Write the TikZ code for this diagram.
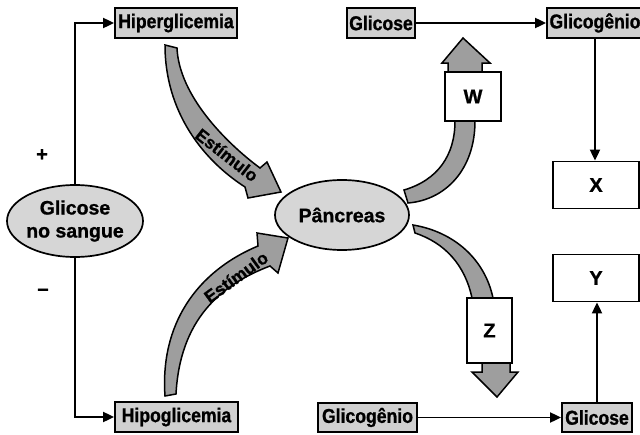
\documentclass[tikz,border=0pt]{standalone}
\usepackage{fontspec}
\setmainfont{Liberation Sans}[BoldFeatures={FakeBold=1}]
\newfontfamily\condbf{Liberation Sans Bold}[FakeStretch=0.88,FakeBold=1]
\usetikzlibrary{arrows.meta,shapes.geometric}
\definecolor{boxgray}{RGB}{208,208,208}
\definecolor{ellgray}{RGB}{214,214,214}
\definecolor{arrgray}{RGB}{158,158,158}
\begin{document}
\begin{tikzpicture}[x=1pt,y=-1pt,
  lbl/.style={rectangle,draw=black,line width=1.8pt,fill=boxgray,inner sep=0pt,
    font=\condbf\fontsize{20}{22}\selectfont},
  letterbox/.style={rectangle,draw=black,line width=1.8pt,fill=white,inner sep=0pt,
    font=\bfseries\fontsize{20}{22}\selectfont},
  ellbox/.style={ellipse,draw=black,line width=1.7pt,fill=ellgray,inner sep=0pt},
  elltext/.style={align=center,inner sep=0pt,font=\bfseries\fontsize{19.5}{23}\selectfont},
  conn/.style={line width=1.9pt,-{Triangle[length=11pt,width=10pt]}},
  bigarr/.style={fill=arrgray,draw=black,line width=1.5pt,line join=miter},
  stim/.style={inner sep=0pt,font=\bfseries\fontsize{17.5}{19}\selectfont},
  sign/.style={inner sep=0pt,font=\bfseries\fontsize{20}{22}\selectfont}
]
\useasboundingbox (0,0) rectangle (640,434);
\fill[white] (0,0) rectangle (640,434);

% big curved arrows
\draw[bigarr] (165,45) .. controls (165,112) and (203,160) .. (245,187)
  -- (248,198) -- (281,192) -- (267,162) -- (260,168)
  .. controls (225,142) and (179,95) .. (177,48) -- cycle;
\draw[bigarr] (165,396) .. controls (160,325) and (196,272) .. (258,246)
  -- (257,233) -- (288,238) -- (278,273) -- (270,266)
  .. controls (220,285) and (180,320) .. (176,394) -- cycle;
\draw[bigarr] (404,190) .. controls (438,180) and (455,155) .. (455,121)
  -- (448,100) -- (448,63) -- (442,63) -- (463,38) -- (490,63) -- (482,63)
  -- (482,100) -- (475,121) .. controls (475,170) and (445,200) .. (408,203) -- cycle;
\draw[bigarr] (413,225) .. controls (455,232) and (485,260) .. (493,298)
  -- (510,330) -- (510,372) -- (518,372) -- (497,397) -- (472,372) -- (482,372)
  -- (482,330) -- (472,298) .. controls (465,265) and (445,243) .. (415,233) -- cycle;

\node[stim,rotate=-38] (est1) at (227,155) {Estímulo};
\node[stim,rotate=36] (est2) at (236,277) {Estímulo};

% ellipses
\node[ellbox,minimum width=136pt,minimum height=72pt] (glic) at (75,221) {};
\node[elltext] (glictext) at (glic.center) {Glicose\\no sangue};
\node[ellbox,minimum width=134pt,minimum height=70pt] (pan) at (342,215) {};
\node[elltext] (pantext) at (pan.center) {Pâncreas};

% boxes
\node[lbl,minimum width=122pt,minimum height=30pt] (hiper) at (176,23) {Hiperglicemia};
\node[lbl,minimum width=123pt,minimum height=30pt] (hipo) at (176.5,417) {Hipoglicemia};
\node[lbl,minimum width=68pt,minimum height=30pt] (glicT) at (381,23) {Glicose};
\node[lbl,minimum width=96pt,minimum height=30pt] (glicogT) at (595,23) {Glicogênio};
\node[lbl,minimum width=99pt,minimum height=29pt] (glicogB) at (367.5,417.5) {Glicogênio};
\node[lbl,minimum width=70pt,minimum height=29pt] (glicB) at (597,417.5) {Glicose};
\node[letterbox,minimum width=86pt,minimum height=47pt] (X) at (596,185) {X};
\node[letterbox,minimum width=86pt,minimum height=47pt] (Y) at (596,278) {Y};
\node[letterbox,minimum width=56pt,minimum height=49pt] (W) at (473,96.5) {W};
\node[letterbox,minimum width=45pt,minimum height=65pt] (Z) at (489.5,330.5) {Z};

% signs
\node[sign] (plus) at (42,155) {+};
\node[sign] (minus) at (43,292) {–};

% connectors
\draw[conn] (glic.north) |- (hiper.west);
\draw[conn] (glic.south) |- (hipo.west);
\draw[conn] (glicT.east) -- (glicogT.west);
\draw[conn] (glicogT.south) -- (glicogT.south |- X.north);
\draw[conn] (glicB.north) -- (glicB.north |- Y.south);
\draw[conn] (glicogB.east) -- (glicB.west);
\end{tikzpicture}
\end{document}
